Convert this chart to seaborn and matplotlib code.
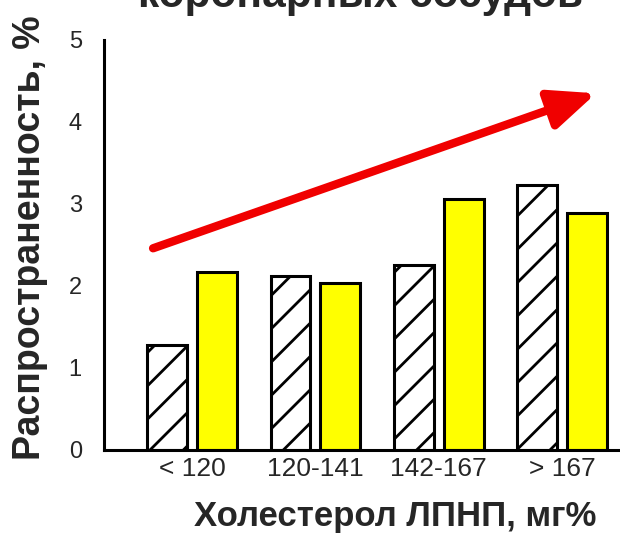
import numpy as np
import pandas as pd
import matplotlib
matplotlib.use("Agg")
import matplotlib.pyplot as plt
from matplotlib import font_manager
import seaborn as sns

# ---- data ----
categories = ["< 120", "120-141", "142-167", "> 167"]
series_names = ["Группа 1", "Группа 2"]
hatched_values = [1.28, 2.12, 2.26, 3.23]
yellow_values = [2.17, 2.04, 3.06, 2.89]
y_ticks = [0, 1, 2, 3, 4, 5]

title_text = "коронарных сосудов"
xlabel_text = "Холестерол ЛПНП, мг%"
ylabel_text = "Распространенность, %"

sns.set_style("white")
names = {f.name for f in font_manager.fontManager.ttflist}
narrow = "Liberation Sans Narrow" if "Liberation Sans Narrow" in names else (
    "DejaVu Sans Condensed" if "DejaVu Sans Condensed" in names else "Liberation Sans")
plt.rcParams["font.family"] = ["Liberation Sans", "DejaVu Sans"]
plt.rcParams["hatch.linewidth"] = 2.0
plt.rcParams["hatch.color"] = "black"

df = pd.DataFrame({
    "cat": categories * 2,
    "series": [series_names[0]] * 4 + [series_names[1]] * 4,
    "val": hatched_values + yellow_values,
})

fig = plt.figure(figsize=(6.2, 5.37), dpi=100)
ax = fig.add_axes([104 / 620, 87 / 537, 516 / 620, 410 / 537])

sns.barplot(data=df, x="cat", y="val", hue="series", order=categories,
            hue_order=series_names,
            palette={series_names[0]: "white", series_names[1]: "#FFFF00"},
            width=0.81, gap=0.2, edgecolor="black", linewidth=2.2,
            legend=False, ax=ax, saturation=1)
for bar in ax.containers[0]:
    bar.set_hatch("/")

ax.set_xlim(-0.715, 3.47)
ax.set_ylim(0, 5)
ax.set_yticks(y_ticks)
ax.set_yticklabels([str(t) for t in y_ticks], family=[narrow, "DejaVu Sans"],
                   fontsize=17)
ax.set_xticks(range(len(categories)))
ax.set_xticklabels(categories, family=[narrow, "DejaVu Sans"], fontsize=19)
ax.tick_params(axis="y", length=0, pad=16)
ax.tick_params(axis="x", length=0, pad=5)

for s in ["top", "right"]:
    ax.spines[s].set_visible(False)
for s in ["left", "bottom"]:
    ax.spines[s].set_color("black")
    ax.spines[s].set_linewidth(2.2)

ax.set_xlabel(xlabel_text, fontsize=25, fontweight="bold")
ax.xaxis.label.set_va("center")
ax.xaxis.set_label_coords(0.564, -0.163)
ax.set_ylabel(ylabel_text, fontsize=27, fontweight="bold")
ax.yaxis.label.set_va("center")
ax.yaxis.set_label_coords(-0.143, 0.517)

# trend arrow
ax.annotate("", xy=(3.276, 4.35), xytext=(-0.317, 2.46),
            arrowprops=dict(arrowstyle="-|>,head_length=1.4,head_width=0.6",
                            mutation_scale=20, color="#F00000", lw=6.0,
                            shrinkA=0, shrinkB=0),
            annotation_clip=False)

# title: only its lower part is visible, as in the reference
fig.text(360 / 620, 1 - 7 / 537, title_text, ha="center", va="baseline",
         fontsize=30.5, fontweight="bold")

fig.savefig("out.png", dpi=100, facecolor="white")
